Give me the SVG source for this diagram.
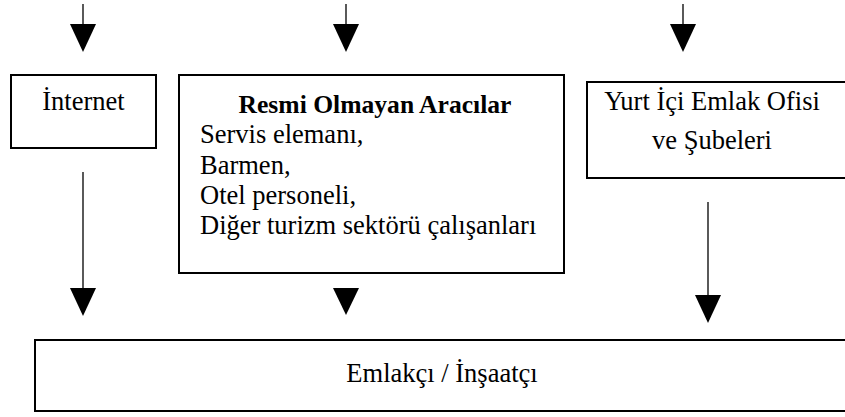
<svg xmlns="http://www.w3.org/2000/svg" width="845" height="417" viewBox="0 0 845 417">
<style>
.box{fill:#fff;stroke:#000;stroke-width:2}
.t{font-family:"Liberation Serif","Times New Roman",serif;font-size:26.5px;fill:#000}
.b{font-weight:bold;font-size:25.6px}
.c{text-anchor:middle}
.ln{stroke:#000;stroke-width:1.3;fill:none}
.head{fill:#000}
</style>
<defs>
<marker id="ah" markerUnits="userSpaceOnUse" markerWidth="28" markerHeight="26" viewBox="0 -13 28 26" refX="0" refY="0" orient="auto" overflow="visible">
<path d="M0,-13 L28,0 L0,13 z" fill="#000"/>
</marker>
</defs>
<g id="connectors">
<line class="ln" x1="83" y1="4" x2="83" y2="24" marker-end="url(#ah)"/>
<line class="ln" x1="346" y1="4" x2="346" y2="24" marker-end="url(#ah)"/>
<line class="ln" x1="683" y1="4" x2="683" y2="24" marker-end="url(#ah)"/>
<line class="ln" x1="83" y1="172" x2="83" y2="288" marker-end="url(#ah)"/>
<polygon class="head" points="333,288 359,288 346,315"/>
<line class="ln" x1="708" y1="202" x2="708" y2="295" marker-end="url(#ah)"/>
</g>
<g id="internet">
<rect class="box" x="11" y="75" width="145" height="73"/>
<text class="t c" x="83.5" y="110">İnternet</text>
</g>
<g id="resmi">
<rect class="box" x="179" y="75" width="385" height="198"/>
<text class="t b c" x="375" y="113">Resmi Olmayan Aracılar</text>
<text class="t" x="200" y="143">Servis elemanı,</text>
<text class="t" x="200" y="174">Barmen,</text>
<text class="t" x="200" y="204">Otel personeli,</text>
<text class="t" x="200" y="234">Diğer turizm sektörü çalışanları</text>
</g>
<g id="yurtici">
<rect class="box" x="587" y="82" width="262" height="96"/>
<text class="t c" x="712" y="110">Yurt İçi Emlak Ofisi</text>
<text class="t c" x="712" y="149">ve Şubeleri</text>
</g>
<g id="emlakci">
<rect class="box" x="35" y="340" width="814" height="71"/>
<text class="t c" x="442" y="382">Emlakçı / İnşaatçı</text>
</g>
</svg>
